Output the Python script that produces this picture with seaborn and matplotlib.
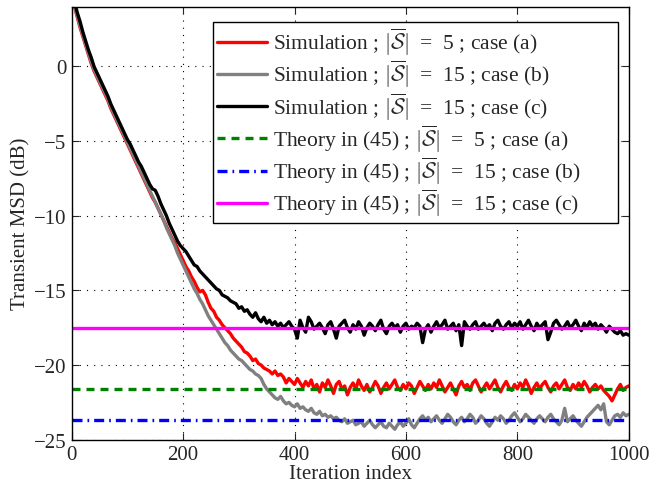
import numpy as np
import pandas as pd
import matplotlib
matplotlib.use("Agg")
import matplotlib.pyplot as plt
import seaborn as sns

# iteration grid (every 5 iterations)
iters = np.arange(0, 1001, 5)

# Simulation, |S| = 5, case (a)  -- red
sim_a = [
    5.1, 4.0, 3.3, 2.6, 2.0, 1.4, 0.8, 0.2, -0.3, -0.7,
    -1.1, -1.5, -1.9, -2.3, -2.8, -3.2, -3.6, -4.0, -4.4, -4.8,
    -5.2, -5.6, -6.0, -6.4, -6.8, -7.2, -7.6, -8.0, -8.4, -8.8,
    -9.1, -9.5, -9.9, -10.3, -10.7, -11.1, -11.5, -11.8, -12.2, -12.6,
    -13.0, -13.4, -13.7, -14.1, -14.4, -14.8, -15.1, -15.0, -15.3, -15.8,
    -16.2, -16.4, -16.8, -17.0, -17.3, -17.5, -17.7, -17.9, -18.2, -18.4,
    -18.6, -18.8, -19.1, -19.2, -19.4, -19.7, -19.6, -19.9, -20.0, -20.2,
    -20.3, -20.4, -20.6, -20.4, -20.7, -20.6, -20.8, -21.2, -20.9, -21.1,
    -21.3, -20.9, -21.2, -21.5, -21.1, -21.4, -21.0, -21.6, -21.3, -21.8,
    -21.2, -21.5, -21.0, -21.4, -21.9, -21.3, -21.1, -21.6, -21.4, -22.0,
    -21.5, -21.2, -21.6, -21.0, -21.4, -21.7, -21.3, -21.8, -21.5, -21.1,
    -21.4, -21.9, -21.5, -21.2, -21.6, -21.3, -21.0, -21.5, -21.7, -21.3,
    -21.6, -21.2, -21.4, -21.9, -21.5, -21.1, -21.4, -21.7, -21.3, -21.6,
    -21.2, -21.5, -21.0, -21.4, -21.8, -21.5, -21.2, -21.6, -22.0, -21.4,
    -21.1, -21.5, -21.3, -21.7, -21.2, -21.0, -21.4, -21.8, -21.5, -21.2,
    -21.6, -21.3, -21.0, -21.5, -21.8, -21.4, -21.1, -21.5, -21.7, -21.3,
    -21.6, -21.2, -21.5, -21.0, -21.4, -21.9, -21.5, -21.2, -21.6, -21.3,
    -21.1, -21.5, -21.8, -21.4, -21.2, -21.6, -21.3, -21.0, -21.5, -21.7,
    -21.3, -21.6, -21.2, -21.5, -21.1, -21.4, -21.8, -21.5, -21.3, -21.6,
    -21.4, -21.7, -21.9, -22.1, -22.4, -22.0, -21.6, -21.3, -21.7, -21.5,
    -21.4,
]

# Simulation, |S| = 15, case (b)  -- gray
sim_b = [
    5.2, 4.1, 3.4, 2.7, 2.1, 1.5, 0.9, 0.3, -0.2, -0.6,
    -1.0, -1.4, -1.8, -2.2, -2.7, -3.1, -3.5, -3.9, -4.3, -4.7,
    -5.1, -5.5, -5.9, -6.3, -6.7, -7.1, -7.5, -7.9, -8.3, -8.7,
    -9.1, -9.5, -9.9, -10.3, -10.8, -11.2, -11.6, -12.0, -12.5, -12.9,
    -13.3, -13.7, -14.1, -14.5, -14.9, -15.2, -15.6, -15.9, -16.3, -16.7,
    -17.0, -17.3, -17.6, -17.9, -18.2, -18.5, -18.7, -19.0, -19.2, -19.4,
    -19.6, -19.7, -19.9, -20.1, -20.3, -20.4, -20.6, -20.7, -20.9, -21.3,
    -21.6, -21.8, -22.0, -22.2, -22.3, -22.1, -22.4, -22.6, -22.5, -22.7,
    -22.8, -22.6, -22.9, -22.8, -23.0, -23.1, -22.9, -23.2, -23.3, -23.1,
    -23.4, -23.3, -23.5, -23.4, -23.6, -23.5, -23.7, -23.8, -23.6, -23.9,
    -23.8, -23.7, -24.0, -23.9, -23.8, -24.1, -23.9, -23.7, -24.0, -24.2,
    -24.0, -23.8, -24.1, -24.2, -23.9, -24.1, -24.3, -24.0, -23.8, -24.1,
    -23.9, -23.6, -24.0, -24.2, -23.9, -23.6, -23.4, -23.7, -23.5, -23.8,
    -23.6, -23.4, -23.7, -23.9, -23.6, -23.3, -23.5, -23.8, -24.0, -23.7,
    -23.5, -23.8, -23.6, -23.3, -23.5, -23.9, -23.7, -23.4, -23.6, -23.9,
    -24.1, -23.8, -23.5, -23.7, -23.4, -23.6, -23.9, -23.7, -23.4, -23.2,
    -23.5, -23.8, -23.6, -23.3, -23.5, -23.7, -23.9, -23.6, -23.4, -23.6,
    -23.8, -23.5, -23.3, -23.6, -23.8, -24.0, -23.7, -22.9, -23.8, -23.6,
    -23.4, -23.7, -23.9, -24.1, -23.8, -23.5, -23.3, -23.1, -22.9, -22.7,
    -23.0, -22.6, -23.8, -24.0, -23.7, -23.4, -23.3, -23.5, -23.2, -23.4,
    -23.3,
]

# Simulation, |S| = 15, case (c)  -- black
sim_c = [
    5.4, 4.3, 3.6, 3.0, 2.3, 1.7, 1.1, 0.6, 0.0, -0.4,
    -0.8, -1.2, -1.6, -2.0, -2.5, -2.9, -3.3, -3.7, -4.1, -4.5,
    -4.9, -5.2, -5.6, -6.0, -6.4, -6.7, -7.1, -7.5, -7.9, -8.2,
    -8.3, -8.7, -9.2, -9.6, -10.0, -10.5, -10.9, -11.3, -11.7, -12.0,
    -12.2, -12.4, -12.7, -13.0, -13.3, -13.4, -13.7, -13.9, -14.1, -14.3,
    -14.5, -14.7, -14.9, -15.0, -15.3, -15.4, -15.5, -15.7, -15.8, -15.9,
    -16.2, -16.1, -16.4, -16.3, -16.6, -16.8, -16.5, -16.9, -17.1, -16.8,
    -17.2, -17.0, -17.3, -17.1, -17.4, -17.2, -17.5, -17.3, -17.1, -17.4,
    -17.6, -18.2, -17.0, -17.5, -17.8, -16.8, -17.1, -17.6, -17.4, -17.2,
    -17.5, -17.9, -17.3, -17.1, -17.6, -18.2, -17.4, -17.2, -17.0, -17.5,
    -17.8, -17.3, -17.6, -17.1, -17.4, -18.0, -17.5, -17.2, -17.4, -17.7,
    -17.3, -17.0, -17.6, -17.9, -17.4, -17.2, -17.5, -17.3, -17.8, -17.4,
    -17.2, -17.6, -17.4, -17.5, -17.2, -17.4, -18.5, -17.6, -17.3, -17.8,
    -17.4, -17.1, -17.5, -17.3, -17.0, -17.6, -17.4, -17.2, -17.7, -17.3,
    -18.7, -17.1, -17.4, -17.6, -17.3, -17.1, -17.6, -17.4, -17.2, -17.5,
    -17.3, -17.7, -17.2, -17.0, -17.4, -17.6, -17.3, -17.1, -17.5, -17.2,
    -17.4, -17.1, -17.6, -17.3, -17.0, -17.4, -17.7, -17.2, -17.5, -17.3,
    -17.1, -18.3, -17.8, -17.2, -17.0, -17.3, -17.6, -17.4, -17.1, -17.5,
    -17.3, -17.0, -17.4, -17.7, -17.2, -17.5, -17.1, -17.4, -17.2, -17.6,
    -17.3, -17.5, -17.8, -17.4, -17.6, -17.8, -17.9, -17.7, -18.0, -17.9,
    -18.0,
]

# Theory in (45): steady-state levels (dB)
theory_x = [0, 1000]
theory_a = -21.6
theory_b = -23.7
theory_c = -17.5

sns.set_style("ticks")
plt.rcParams["font.family"] = ["Liberation Serif", "DejaVu Serif"]
plt.rcParams["mathtext.fontset"] = "cm"
plt.rcParams["font.size"] = 15

fig = plt.figure(figsize=(6.52, 4.89), dpi=100)
ax = fig.add_axes([0.110, 0.0988, 0.8543, 0.8855])

S = r"$|\overline{\mathcal{S}}|$"
lw = 2.4
pad = "       "

sns.lineplot(x=iters, y=sim_a, color="#ff0000", lw=lw, ax=ax,
             label=f"Simulation ; {S}  =  5 ; case (a){pad}")
sns.lineplot(x=iters, y=sim_b, color="#808080", lw=lw, ax=ax,
             label=f"Simulation ; {S}  =  15 ; case (b){pad}")
sns.lineplot(x=iters, y=sim_c, color="#000000", lw=lw, ax=ax,
             label=f"Simulation ; {S}  =  15 ; case (c){pad}")
sns.lineplot(x=theory_x, y=[theory_a] * 2, color="#008000", lw=lw, ax=ax,
             label=f"Theory in (45) ; {S}  =  5 ; case (a){pad}")
sns.lineplot(x=theory_x, y=[theory_b] * 2, color="#0000ff", lw=lw, ax=ax,
             label=f"Theory in (45) ; {S}  =  15 ; case (b){pad}")
sns.lineplot(x=theory_x, y=[theory_c] * 2, color="#ff00ff", lw=lw, ax=ax,
             label=f"Theory in (45) ; {S}  =  15 ; case (c){pad}")

lines = ax.get_lines()
lines[3].set_dashes((2.4, 1.8))
lines[4].set_dashes((3.0, 1.5, 0.5, 1.5))

ax.set_xlim(0, 1000)
ax.set_ylim(-25, 4)
ax.set_xticks([0, 200, 400, 600, 800, 1000])
ax.set_yticks([-25, -20, -15, -10, -5, 0])
ax.set_xlabel("Iteration index", labelpad=0)
ax.set_ylabel("Transient MSD (dB)", labelpad=2)

ax.grid(True, color="black", linestyle=(0, (1, 5.5)), linewidth=0.8)
ax.tick_params(direction="in", length=5, width=0.8, top=True, right=True,
               labelsize=15, pad=4)
for sp in ax.spines.values():
    sp.set_visible(True)
    sp.set_linewidth(1.0)
    sp.set_color("black")

# legend box: right edge ~618 px, top ~23 px in the reference
leg = ax.legend(loc="upper right", bbox_to_anchor=(0.9808, 0.9654),
                borderaxespad=0, fancybox=False, framealpha=1,
                edgecolor="black", fontsize=15.5, handlelength=2.3,
                handletextpad=0.3, labelspacing=0.04, borderpad=0.2)
leg.get_frame().set_linewidth(1.0)

fig.savefig("out.png", dpi=100)
